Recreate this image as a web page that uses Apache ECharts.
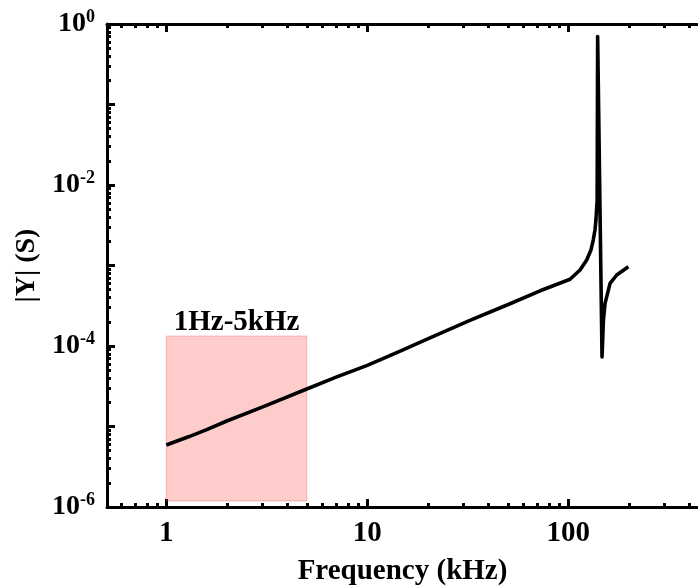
<!DOCTYPE html>
<html><head><meta charset="utf-8">
<script src="https://cdn.jsdelivr.net/npm/echarts@6/dist/echarts.min.js"></script>
<style>html,body{margin:0;padding:0;background:#fff}#c{width:698px;height:587px}</style>
</head><body><div id="c"></div>
<script>
// ---- data ----
const freqKHz = [1, 1.3, 1.6, 2, 3, 5, 7, 10, 14.2, 20.5, 32.4, 51.3, 72.4, 81.1, 102.1, 114.4, 123.5, 129.7, 133.1, 135.8, 137.3, 139.2, 140, 147.2, 149.6, 152.4, 161.4, 174.2, 199];
const admittanceS = [5.9e-6, 7.5e-6, 9.2e-6, 1.17e-5, 1.74e-5, 2.92e-5, 4.1e-5, 5.75e-5, 8.4e-5, 1.26e-4, 2.08e-4, 3.35e-4, 4.85e-4, 5.4e-4, 6.75e-4, 8.79e-4, 1.17e-3, 1.56e-3, 2.07e-3, 2.76e-3, 3.67e-3, 6.5e-3, 0.70, 7.3e-5, 2.1e-4, 3.39e-4, 6.0e-4, 7.62e-4, 9.66e-4];

const xMajorTicks = [1, 10, 100];
const xMinorTicks = [0.6, 0.7, 0.8, 0.9, 2, 3, 4, 5, 6, 7, 8, 9, 20, 30, 40, 50, 60, 70, 80, 90, 200, 300, 400];
const yMajorTicks = [1e-6, 1e-5, 1e-4, 1e-3, 1e-2, 1e-1, 1];
const yLabelTicks = [1e-6, 1e-4, 1e-2, 1];
const yMinorTicks = [
  2e-6, 3e-6, 4e-6, 5e-6, 6e-6, 7e-6, 8e-6, 9e-6,
  2e-5, 3e-5, 4e-5, 5e-5, 6e-5, 7e-5, 8e-5, 9e-5,
  2e-4, 3e-4, 4e-4, 5e-4, 6e-4, 7e-4, 8e-4, 9e-4,
  2e-3, 3e-3, 4e-3, 5e-3, 6e-3, 7e-3, 8e-3, 9e-3,
  2e-2, 3e-2, 4e-2, 5e-2, 6e-2, 7e-2, 8e-2, 9e-2,
  0.2, 0.3, 0.4, 0.5, 0.6, 0.7, 0.8, 0.9
];
const bandX = [1, 5];
const bandY = [1.19e-6, 1.33e-4];
const bandLabel = '1Hz-5kHz';
const xName = 'Frequency (kHz)';
const yName = '|Y| (S)';

// ---- chart ----
const FONT = "'Liberation Serif', 'Times New Roman', serif";
const chart = echarts.init(document.getElementById('c'), null, {renderer: 'canvas'});
// visible part of the x axis (the frame continues past the right edge in the reference)
const X_MIN = 0.507, X_MAX = 442, Y_MIN = 1e-6, Y_MAX = 1;

function xAxisDef(pos, ticks, len, withLine, withLabel, withName) {
  return {
    type: 'log', logBase: 10, min: X_MIN, max: X_MAX, position: pos, gridIndex: 0,
    axisLine: {show: withLine, onZero: false, lineStyle: {color: '#000', width: 3}},
    axisTick: {show: true, inside: true, length: len, customValues: ticks, lineStyle: {color: '#000', width: 3}},
    axisLabel: withLabel ? {show: true, customValues: ticks, margin: 12, color: '#000', fontFamily: FONT, fontWeight: 'bold', fontSize: 29} : {show: false},
    splitLine: {show: false}, minorTick: {show: false},
    name: withName ? xName : '', nameLocation: 'middle', nameGap: 50,
    nameTextStyle: {color: '#000', fontFamily: FONT, fontWeight: 'bold', fontSize: 29}
  };
}
function yAxisDef(pos, ticks, len, withLine, withLabel, withName) {
  return {
    type: 'log', logBase: 10, min: Y_MIN, max: Y_MAX, position: pos, gridIndex: 0,
    axisLine: {show: withLine, onZero: false, lineStyle: {color: '#000', width: 3}},
    axisTick: {show: true, inside: true, length: len, customValues: ticks, lineStyle: {color: '#000', width: 3}},
    axisLabel: withLabel ? {
      show: true, customValues: yLabelTicks, margin: 12,
      formatter: v => '{b|10}{s|' + Math.round(Math.log10(v)) + '}',
      rich: {
        b: {fontFamily: FONT, fontWeight: 'bold', fontSize: 28, color: '#000'},
        s: {fontFamily: FONT, fontWeight: 'bold', fontSize: 18, color: '#000', padding: [0, 0, 13, 0]}
      }
    } : {show: false},
    splitLine: {show: false}, minorTick: {show: false},
    name: withName ? yName : '', nameLocation: 'middle', nameGap: 59, nameRotate: 90,
    nameTextStyle: {color: '#000', fontFamily: FONT, fontWeight: 'bold', fontSize: 28}
  };
}

chart.setOption({
  animation: false,
  backgroundColor: '#fff',
  grid: {left: 107, top: 24, right: 0, height: 483, containLabel: false, outerBoundsMode: 'none'},
  xAxis: [
    xAxisDef('bottom', xMajorTicks, 8, true, true, true),
    xAxisDef('bottom', xMinorTicks, 4, false, false, false),
    xAxisDef('top', xMajorTicks, 8, true, false, false),
    xAxisDef('top', xMinorTicks, 4, false, false, false)
  ],
  yAxis: [
    yAxisDef('left', yMajorTicks, 8, true, true, true),
    yAxisDef('left', yMinorTicks, 4, false, false, false)
  ],
  series: [
    {
      type: 'line', xAxisIndex: 0, yAxisIndex: 0, z: 2,
      data: freqKHz.map((f, i) => [f, admittanceS[i]]),
      showSymbol: false, symbol: 'none', smooth: false,
      lineStyle: {color: '#000', width: 3.6, join: 'round'}
    },
    {
      type: 'line', xAxisIndex: 0, yAxisIndex: 0, z: 5, data: [],
      markArea: {
        silent: true,
        itemStyle: {color: 'rgba(255,0,0,0.2)', borderColor: 'rgba(220,90,90,0.35)', borderWidth: 1},
        label: {show: true, position: 'top', distance: -1, color: '#000', fontFamily: FONT, fontWeight: 'bold', fontSize: 29},
        data: [[{name: bandLabel, coord: [bandX[0], bandY[0]]}, {coord: [bandX[1], bandY[1]]}]]
      }
    }
  ]
});
</script></body></html>
